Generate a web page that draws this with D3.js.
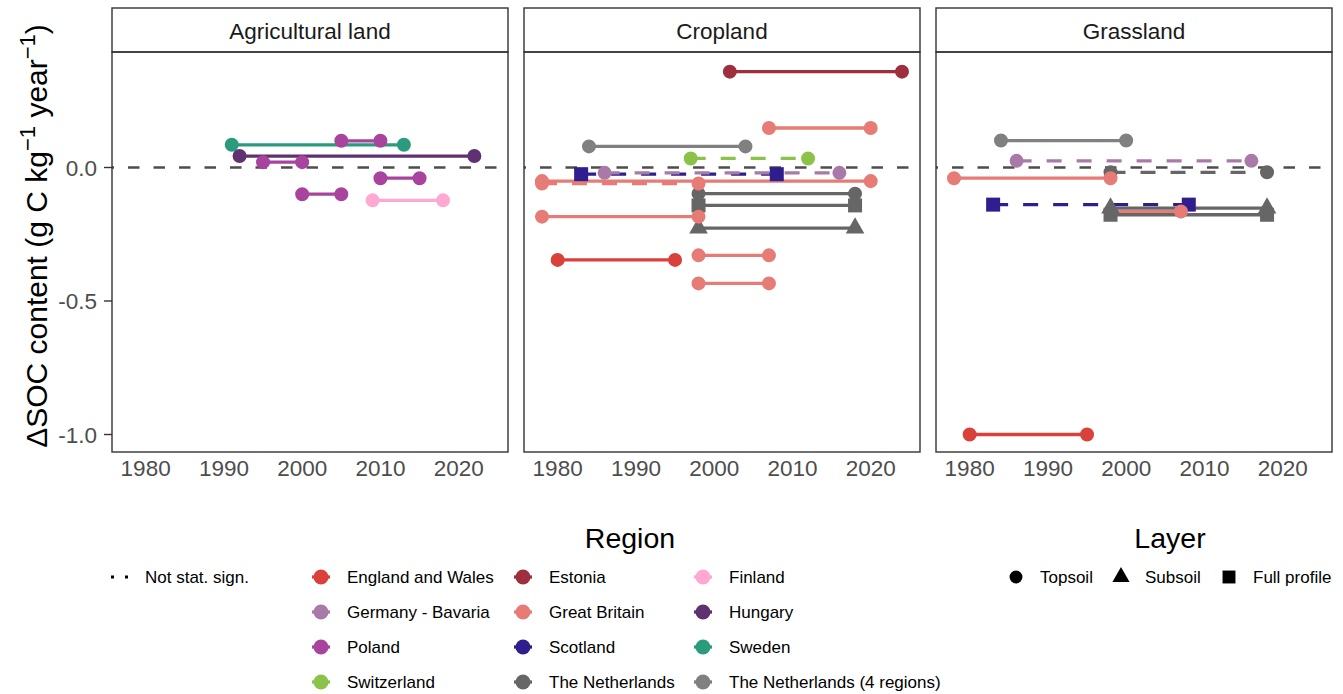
<!DOCTYPE html>
<html>
<head>
<meta charset="utf-8">
<script src="https://cdn.jsdelivr.net/npm/d3@7"></script>
<style>
  body { margin: 0; background: #fff; }
  text { font-family: "Liberation Sans", Arial, Helvetica, sans-serif; }
</style>
</head>
<body>
<div id="app"></div>
<script>
// facets, regions, layers and ticks
var panels = ['Agricultural land', 'Cropland', 'Grassland'];
var regions = ['England and Wales', 'Estonia', 'Finland', 'Germany - Bavaria', 'Great Britain', 'Hungary',
               'Poland', 'Scotland', 'Sweden', 'Switzerland', 'The Netherlands', 'The Netherlands (4 regions)'];
var regionColors = ['#DA413A', '#9E2F3F', '#FFA8D3', '#A87AA8', '#E67C75', '#5F3170',
                    '#A8449E', '#2E1E8E', '#2B9B7E', '#8BC34A', '#666666', '#808080'];
var layers = ['Topsoil', 'Subsoil', 'Full profile'];
var yearTicks = [1980, 1990, 2000, 2010, 2020];
var deltaTicks = [-1.0, -0.5, 0.0];

// rows: region, layer, first year, last year, delta SOC, significant
var agricultural = [
  ['Sweden', 'Topsoil', 1991, 2013, 0.085, true],
  ['Hungary', 'Topsoil', 1992, 2022, 0.043, true],
  ['Poland', 'Topsoil', 1995, 2000, 0.020, true],
  ['Poland', 'Topsoil', 2005, 2010, 0.100, true],
  ['Poland', 'Topsoil', 2010, 2015, -0.040, true],
  ['Poland', 'Topsoil', 2000, 2005, -0.100, true],
  ['Finland', 'Topsoil', 2009, 2018, -0.123, true]
];
var cropland = [
  ['Estonia', 'Topsoil', 2002, 2024, 0.359, true],
  ['Great Britain', 'Topsoil', 2007, 2020, 0.148, true],
  ['The Netherlands (4 regions)', 'Topsoil', 1984, 2004, 0.079, true],
  ['Switzerland', 'Topsoil', 1997, 2012, 0.034, false],
  ['Scotland', 'Full profile', 1983, 2008, -0.025, false],
  ['Germany - Bavaria', 'Topsoil', 1986, 2016, -0.020, false],
  ['The Netherlands', 'Topsoil', 1998, 2018, -0.098, true],
  ['The Netherlands', 'Full profile', 1998, 2018, -0.142, true],
  ['The Netherlands', 'Subsoil', 1998, 2018, -0.227, true],
  ['Great Britain', 'Topsoil', 1978, 2020, -0.051, true],
  ['Great Britain', 'Topsoil', 1978, 1998, -0.060, false],
  ['Great Britain', 'Topsoil', 1978, 1998, -0.184, true],
  ['Great Britain', 'Topsoil', 1998, 2007, -0.329, true],
  ['Great Britain', 'Topsoil', 1998, 2007, -0.434, true],
  ['England and Wales', 'Topsoil', 1980, 1995, -0.346, true]
];
var grassland = [
  ['The Netherlands (4 regions)', 'Topsoil', 1984, 2000, 0.101, true],
  ['Germany - Bavaria', 'Topsoil', 1986, 2016, 0.025, false],
  ['The Netherlands', 'Topsoil', 1998, 2018, -0.018, false],
  ['Great Britain', 'Topsoil', 1978, 1998, -0.040, true],
  ['Scotland', 'Full profile', 1983, 2008, -0.139, false],
  ['Great Britain', 'Topsoil', 1998, 2007, -0.165, true],
  ['The Netherlands', 'Subsoil', 1998, 2018, -0.152, true],
  ['The Netherlands', 'Full profile', 1998, 2018, -0.177, true],
  ['England and Wales', 'Topsoil', 1980, 1995, -1.000, true]
];
var panelData = [agricultural, cropland, grassland];

////////////////////////////////////////
var width = 1343, height = 694;
var panelLeft = [112, 524, 936];
var panelW = 396;
var stripTop = 8, stripH = 44;
var plotTop = 52, plotH = 400;

var svg = d3.select('#app').append('svg')
    .attr('width', width)
    .attr('height', height);

var x = d3.scaleLinear().domain([1975.7, 2026.3]).range([0, panelW]);
var y = d3.scaleLinear().domain([-1.0655, 0.4326]).range([plotH, 0]);
var color = d3.scaleOrdinal().domain(regions).range(regionColors);

function shapePath(layer, big) {
  var s = big ? 1 : 0.85;
  if (layer === 'Topsoil') return d3.symbol(d3.symbolCircle, 154 * s)();
  if (layer === 'Subsoil') return d3.symbol(d3.symbolTriangle, 150 * s)();
  return d3.symbol(d3.symbolSquare, 196 * s)();
}

panels.forEach(function(name, p) {
  var g = svg.append('g').attr('transform', 'translate(' + panelLeft[p] + ',0)');

  // strip
  g.append('rect')
      .attr('x', 0).attr('y', stripTop)
      .attr('width', panelW).attr('height', stripH)
      .attr('fill', '#fff').attr('stroke', '#333').attr('stroke-width', 1.4);
  g.append('text')
      .attr('x', panelW / 2).attr('y', stripTop + 31)
      .attr('text-anchor', 'middle')
      .attr('font-size', 22.5).attr('fill', '#1A1A1A')
      .text(name);

  var plot = g.append('g').attr('transform', 'translate(0,' + plotTop + ')');

  // zero reference
  plot.append('line')
      .attr('x1', 0).attr('x2', panelW)
      .attr('y1', y(0)).attr('y2', y(0))
      .attr('stroke', '#4D4D4D').attr('stroke-width', 2.6)
      .attr('stroke-dasharray', '11.5,14').attr('stroke-dashoffset', 9.5);

  var rows = panelData[p];

  plot.selectAll('line.seg')
      .data(rows)
    .enter().append('line')
      .attr('class', 'seg')
      .attr('x1', function(d) { return x(d[2]); })
      .attr('x2', function(d) { return x(d[3]); })
      .attr('y1', function(d) { return y(d[4]); })
      .attr('y2', function(d) { return y(d[4]); })
      .attr('stroke', function(d) { return color(d[0]); })
      .attr('stroke-width', 3.3)
      .attr('stroke-dasharray', function(d) { return d[5] ? null : '15,15'; });

  var pts = [];
  rows.forEach(function(d) {
    pts.push({ region: d[0], layer: d[1], year: d[2], v: d[4] });
    pts.push({ region: d[0], layer: d[1], year: d[3], v: d[4] });
  });

  plot.selectAll('path.pt')
      .data(pts)
    .enter().append('path')
      .attr('class', 'pt')
      .attr('transform', function(d) { return 'translate(' + x(d.year) + ',' + y(d.v) + ')'; })
      .attr('d', function(d) { return shapePath(d.layer, true); })
      .attr('fill', function(d) { return color(d.region); });

  // panel border
  plot.append('rect')
      .attr('x', 0).attr('y', 0)
      .attr('width', panelW).attr('height', plotH)
      .attr('fill', 'none').attr('stroke', '#333').attr('stroke-width', 1.4);

  // x axis labels
  plot.selectAll('text.xt')
      .data(yearTicks)
    .enter().append('text')
      .attr('class', 'xt')
      .attr('x', function(d) { return x(d); })
      .attr('y', plotH + 24)
      .attr('text-anchor', 'middle')
      .attr('font-size', 22.5).attr('fill', '#4D4D4D')
      .text(function(d) { return d; });

  if (p === 0) {
    var yAxis = plot.append('g');
    yAxis.selectAll('line')
        .data(deltaTicks)
      .enter().append('line')
        .attr('x1', -8).attr('x2', 0)
        .attr('y1', function(d) { return y(d); })
        .attr('y2', function(d) { return y(d); })
        .attr('stroke', '#333').attr('stroke-width', 1.4);
    yAxis.selectAll('text')
        .data(deltaTicks)
      .enter().append('text')
        .attr('x', -15)
        .attr('y', function(d) { return y(d) + 8; })
        .attr('text-anchor', 'end')
        .attr('font-size', 22.5).attr('fill', '#4D4D4D')
        .text(function(d) { return d.toFixed(1); });
  }
});

// y axis title
var yTitle = svg.append('text')
    .attr('transform', 'translate(47,236) rotate(-90)')
    .attr('text-anchor', 'middle')
    .attr('font-size', 30).attr('fill', '#000');
yTitle.append('tspan').text('\u0394SOC content (g C kg');
yTitle.append('tspan').attr('dy', -12).attr('font-size', 22).text('\u22121');
yTitle.append('tspan').attr('dy', 12).text(' year');
yTitle.append('tspan').attr('dy', -12).attr('font-size', 22).text('\u22121');
yTitle.append('tspan').attr('dy', 12).text(')');

////////////////////////////////////////
// legends
var leg = svg.append('g');
var rowY = [577, 612, 647, 682];

// linetype key
leg.append('line')
    .attr('x1', 111).attr('x2', 131)
    .attr('y1', rowY[0]).attr('y2', rowY[0])
    .attr('stroke', '#000').attr('stroke-width', 3)
    .attr('stroke-dasharray', '3,11');
leg.append('text')
    .attr('x', 145).attr('y', rowY[0] + 6)
    .attr('font-size', 17).text('Not stat. sign.');

// region legend
leg.append('text')
    .attr('x', 630).attr('y', 548)
    .attr('text-anchor', 'middle')
    .attr('font-size', 28.5).text('Region');

var colKey = [321, 523, 703];
var regionKeys = leg.selectAll('g.rk')
    .data(regions)
  .enter().append('g')
    .attr('class', 'rk')
    .attr('transform', function(d, i) {
      return 'translate(' + colKey[i % 3] + ',' + rowY[Math.floor(i / 3)] + ')';
    });
regionKeys.append('line')
    .attr('x1', -9).attr('x2', 9)
    .attr('stroke', function(d) { return color(d); })
    .attr('stroke-width', 3.3);
regionKeys.append('circle')
    .attr('r', 7.5)
    .attr('fill', function(d) { return color(d); });
regionKeys.append('text')
    .attr('x', 26).attr('y', 6)
    .attr('font-size', 17)
    .text(function(d) { return d; });

// layer legend
leg.append('text')
    .attr('x', 1170).attr('y', 548)
    .attr('text-anchor', 'middle')
    .attr('font-size', 28.5).text('Layer');

var layerKeyX = [1016, 1121, 1229];
var layerKeys = leg.selectAll('g.lk')
    .data(layers)
  .enter().append('g')
    .attr('class', 'lk')
    .attr('transform', function(d, i) { return 'translate(' + layerKeyX[i] + ',' + rowY[0] + ')'; });
layerKeys.append('path')
    .attr('d', function(d) { return shapePath(d, false); })
    .attr('fill', '#000');
layerKeys.append('text')
    .attr('x', 24).attr('y', 6)
    .attr('font-size', 17)
    .text(function(d) { return d; });
</script>
</body>
</html>
